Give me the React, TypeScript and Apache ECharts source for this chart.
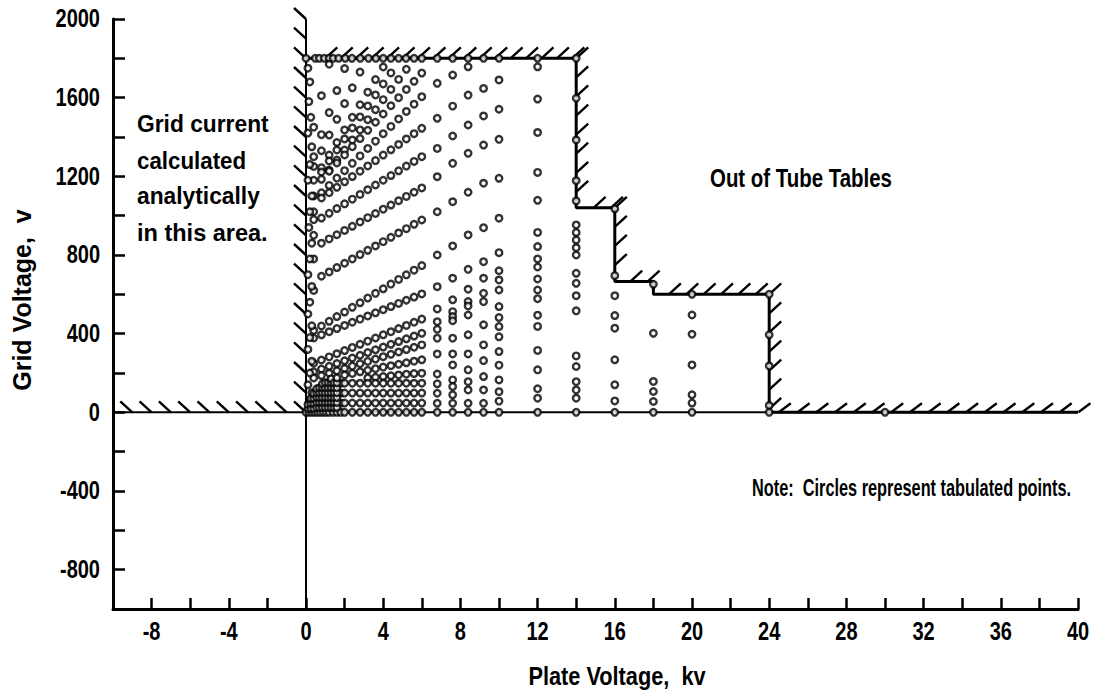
import React, { useEffect, useRef } from "react";
import * as echarts from "echarts";

// ---- axis ranges / ticks ----
const X_MIN = -10, X_MAX = 40, X_STEP = 2;
const Y_MIN = -1000, Y_MAX = 2000, Y_STEP = 200;
const xLabels = [-8, -4, 0, 4, 8, 12, 16, 20, 24, 28, 32, 36, 40];
const yLabels = [-800, -400, 0, 400, 800, 1200, 1600, 2000];

// ---- boundary of the tube tables ----
const boundary: [number, number][] = [
  [0, 1800], [14, 1800], [14, 1040], [16, 1040], [16, 665], [18, 665], [18, 600], [24, 600], [24, 0], [40, 0],
];

// ---- tabulated points: columns at fixed plate voltage ----
const colX = [6.8, 7.6, 8.4, 9.2, 10, 12, 14, 16, 18, 20, 24, 30];
const colV: number[][] = [
  [1800, 1673, 1495, 1342, 1198, 1020, 800, 639, 526, 461, 422, 377, 297, 195, 145, 97, 46, 0],
  [1800, 1715, 1557, 1405, 1266, 1071, 846, 682, 572, 512, 487, 466, 377, 297, 241, 165, 131, 89, 46, 0],
  [1800, 1757, 1613, 1461, 1317, 1119, 902, 727, 626, 563, 541, 495, 394, 297, 216, 156, 114, 46, 0],
  [1800, 1647, 1507, 1359, 1165, 939, 766, 682, 605, 563, 445, 343, 263, 182, 114, 46, 0],
  [1800, 1690, 1541, 1388, 1190, 987, 812, 720, 673, 622, 538, 482, 436, 384, 309, 240, 165, 105, 57, 0],
  [1800, 1757, 1593, 1423, 1220, 1078, 915, 843, 780, 739, 678, 622, 578, 494, 437, 315, 216, 120, 72, 0],
  [1800, 1597, 1385, 1178, 1075, 953, 914, 876, 837, 800, 707, 656, 593, 516, 287, 233, 156, 114, 72, 0],
  [1035, 695, 593, 492, 428, 267, 140, 58, 0],
  [651, 402, 157, 106, 55, 0],
  [600, 495, 397, 241, 89, 47, 0],
  [600, 394, 236, 35, 0],
  [0],
];

// ---- top row (grid voltage 1800) and bottom row (grid voltage 0) ----
const topRowX = [0, 0.48, 0.69, 0.95, 1.2, 1.41, 1.69, 2.03, 2.38, 2.81, 3.24, 3.62, 4.0, 4.4, 4.8, 5.18, 5.6, 6.0];
const bottomRowX = [0, 0.15, 0.3, 0.45, 0.6, 0.75, 0.9, 1.05, 1.2, 1.4, 1.6, 1.8, 2.0, 2.4, 2.8, 3.2, 3.6, 4.0, 4.4, 4.8, 5.2, 5.6, 6.0];

// ---- steep curves that reach the 1800 v limit ----
const steepCurves: [number, number][][] = [
  [[0.4, 1450], [0.8, 1610], [1.2, 1770]],
  [[0.4, 1300], [0.8, 1412], [1.2, 1524], [1.6, 1636], [2.0, 1748]],
  [[0.4, 1250], [0.8, 1330], [1.2, 1410], [1.6, 1490], [2.0, 1570], [2.4, 1650], [2.8, 1730]],
  [[0.4, 1180], [0.8, 1244], [1.2, 1308], [1.6, 1372], [2.0, 1436], [2.4, 1500], [2.8, 1564], [3.2, 1628], [3.6, 1692], [4.0, 1756]],
  [[0.8, 1222], [1.2, 1278], [1.6, 1334], [2.0, 1390], [2.4, 1446], [2.8, 1502], [3.2, 1558], [3.6, 1614], [4.0, 1670], [4.4, 1726]],
  [[1.2, 1232], [1.6, 1283], [2.0, 1334], [2.4, 1385], [2.8, 1436], [3.2, 1488], [3.6, 1539], [4.0, 1590], [4.4, 1642], [4.8, 1693], [5.2, 1744]],
];

// ---- fan of curves between 0.4 and 6 kv ----
const fanX = [0.4, 0.8, 1.2, 1.6, 2.0, 2.4, 2.8, 3.2, 3.6, 4.0, 4.4, 4.8, 5.2, 5.6, 6.0];
const fanV: number[][] = [
  [1100, 1185, 1226, 1268, 1309, 1351, 1392, 1434, 1475, 1517, 1559, 1600, 1642, 1683, 1725],
  [1020, 1116, 1154, 1191, 1229, 1266, 1304, 1342, 1379, 1417, 1454, 1492, 1530, 1567, 1605],
  [980, 1090, 1117, 1144, 1172, 1199, 1226, 1253, 1280, 1308, 1335, 1362, 1390, 1417, 1444],
  [900, 988, 1012, 1036, 1060, 1084, 1108, 1132, 1156, 1180, 1204, 1228, 1252, 1276, 1300],
  [780, 860, 882, 903, 925, 946, 968, 990, 1011, 1033, 1054, 1076, 1098, 1119, 1141],
  [620, 692, 714, 736, 758, 780, 802, 824, 846, 868, 890, 912, 934, 956, 978],
  [416, 439, 463, 487, 510, 534, 557, 581, 605, 628, 652, 676, 699, 723, 746],
  [378, 394, 410, 426, 442, 458, 474, 490, 506, 522, 538, 554, 570, 586, 602],
  [250, 266, 282, 298, 314, 330, 346, 362, 378, 394, 410, 426, 442, 458, 474],
  [206, 220, 234, 248, 262, 276, 290, 304, 318, 332, 346, 360, 374, 388, 402],
  [175, 187, 199, 211, 223, 235, 247, 259, 271, 283, 295, 307, 319, 331, 343],
];
const lowCurves: [number, number][][] = [
  [[2.0, 190], [2.4, 198], [2.8, 206], [3.2, 214], [3.6, 222], [4.0, 230], [4.4, 237], [4.8, 244], [5.2, 252], [5.6, 260], [6.0, 267]],
  [[3.2, 175], [3.6, 178], [4.0, 182], [4.4, 186], [4.8, 190], [5.2, 194], [5.6, 197], [6.0, 199]],
  [[1.8, 148], [2.0, 148], [2.4, 148], [2.8, 148], [3.2, 148], [3.6, 148], [4.0, 148], [4.4, 148], [4.8, 148], [5.2, 148], [5.6, 148], [6.0, 148]],
  [[1.8, 98], [2.0, 98], [2.4, 98], [2.8, 98], [3.2, 98], [3.6, 98], [4.0, 98], [4.4, 98], [4.8, 98], [5.2, 98], [5.6, 98], [6.0, 98]],
  [[1.8, 47], [2.0, 47], [2.4, 47], [2.8, 47], [3.2, 47], [3.6, 47], [4.0, 47], [4.4, 47], [4.8, 47], [5.2, 47], [5.6, 47], [6.0, 47]],
];

// ---- near-axis points (steep parts of the curves) ----
const axisPts: [number, number][] = [
  [0.1, 1750], [0.2, 1680], [0.15, 1580], [0.25, 1500], [0.1, 1420], [0.3, 1350], [0.2, 1260], [0.1, 1180],
  [0.3, 1100], [0.2, 1020], [0.15, 940], [0.3, 860], [0.2, 780], [0.1, 700], [0.3, 640], [0.2, 560],
  [0.1, 500], [0.3, 440], [0.2, 380], [0.1, 320], [0.3, 260], [0.2, 200], [0.1, 140], [0.3, 100], [0.2, 60],
];
// ---- dense wedge of points near the origin (per plate voltage) ----
const denseX = [0.1, 0.25, 0.4, 0.55, 0.7, 0.85, 1.0, 1.15, 1.3, 1.45, 1.6];
const denseV: number[][] = [
  [20, 40],
  [20, 45, 70],
  [20, 45, 70, 95],
  [25, 50, 75, 100, 120],
  [25, 50, 75, 100, 125],
  [25, 50, 75, 100, 125, 145],
  [25, 50, 75, 100, 125, 150],
  [25, 50, 75, 100, 125, 150],
  [25, 50, 75, 100, 125, 150, 170],
  [25, 50, 75, 100, 125, 150],
  [25, 50, 75, 100, 125, 150, 175],
];

const FONT = "'Liberation Sans', Arial, sans-serif";

function buildPoints(): [number, number][] {
  const pts: [number, number][] = [];
  colX.forEach((x, i) => colV[i].forEach((v) => pts.push([x, v])));
  topRowX.forEach((x) => pts.push([x, 1800]));
  bottomRowX.forEach((x) => pts.push([x, 0]));
  steepCurves.forEach((c) => c.forEach((p) => pts.push(p)));
  fanV.forEach((row) => row.forEach((v, j) => pts.push([fanX[j], v])));
  lowCurves.forEach((c) => c.forEach((p) => pts.push(p)));
  axisPts.forEach((p) => pts.push(p));
  denseX.forEach((x, i) => denseV[i].forEach((v) => pts.push([x, v])));
  return pts;
}

// hatch anchors along segments (decoration only): [x, v, kind] kind 0 = "\" (up-left), 1 = "/" (up-right), 2 = small "/"
function buildHatches(): [number, number, number][] {
  const h: [number, number, number][] = [];
  for (let v = 2000; v >= 100; v -= 100) h.push([0, v, 0]);
  for (let x = -9; x <= 0; x += 1) h.push([x, 0, 0]);
  for (let x = 1.0; x <= 14; x += 0.8) h.push([x, 1800, 1]);
  for (let v = 1800; v > 1060; v -= 97) h.push([14, v, 1]);
  h.push([14.9, 1040, 1]); h.push([15.8, 1040, 1]);
  for (let v = 1040; v > 690; v -= 97) h.push([16, v, 1]);
  h.push([16.8, 665, 1]); h.push([17.7, 665, 1]);
  for (let x = 18.8; x <= 24; x += 0.9) h.push([x, 600, 1]);
  for (let v = 600; v > 10; v -= 97) h.push([24, v, 1]);
  for (let x = 24.5; x <= 40.2; x += 0.97) h.push([x, 0, 2]);
  return h;
}

export default function App() {
  const ref = useRef<HTMLDivElement>(null);
  useEffect(() => {
    if (!ref.current) return;
    const chart = echarts.init(ref.current, undefined, { renderer: "svg" });
    const txt = (text: string, x: number, y: number, size: number, sx: number, extra: any = {}) => ({
      type: "text",
      x, y, scaleX: sx,
      ...extra,
      style: { text, fill: "#000", font: `bold ${size}px ${FONT}`, textVerticalAlign: "middle", ...(extra.style || {}) },
    });
    const labelStyle = (text: string, align: string) => ({
      text, fill: "#000", font: `bold 25px ${FONT}`, textAlign: align, textVerticalAlign: "middle",
    });
    chart.setOption({
      animation: false,
      backgroundColor: "#fff",
      grid: { left: 113, top: 19, width: 965, height: 590, containLabel: false },
      xAxis: {
        type: "value", min: X_MIN, max: X_MAX, interval: X_STEP,
        axisLine: { onZero: false, lineStyle: { color: "#000", width: 3 } },
        axisTick: { inside: true, length: 11, lineStyle: { color: "#000", width: 2.5 } },
        splitLine: { show: false },
        axisLabel: { show: false },
      },
      yAxis: {
        type: "value", min: Y_MIN, max: Y_MAX, interval: Y_STEP,
        axisLine: { onZero: false, lineStyle: { color: "#000", width: 3 } },
        axisTick: { inside: true, length: 12, lineStyle: { color: "#000", width: 2.5 } },
        splitLine: { show: false },
        axisLabel: { show: false },
      },
      series: [
        { type: "line", data: [[X_MIN, 0], [X_MAX, 0]], symbol: "none", lineStyle: { color: "#000", width: 2 }, z: 2 },
        { type: "line", data: [[0, Y_MIN], [0, Y_MAX]], symbol: "none", lineStyle: { color: "#000", width: 2 }, z: 2 },
        { type: "line", data: boundary, symbol: "none", lineStyle: { color: "#000", width: 3 }, z: 3 },
        {
          type: "custom", data: buildHatches(), z: 3, clip: false,
          renderItem: (_p: any, api: any) => {
            const c = api.coord([api.value(0), api.value(1)]);
            const k = api.value(2);
            const dx = k === 0 ? -12 : 12;
            const dy = k === 2 ? -9 : -11;
            return { type: "line", shape: { x1: c[0], y1: c[1], x2: c[0] + dx, y2: c[1] + dy }, style: { stroke: "#000", lineWidth: 2.4 } };
          },
        },
        {
          type: "scatter", data: buildPoints(), symbol: "circle", symbolSize: 6.5, z: 5,
          itemStyle: { color: "#fff", borderColor: "#000", borderWidth: 2.4 },
        },
        // x tick labels, placed through the axis scale
        {
          type: "custom", data: xLabels.map((v) => [v, Y_MIN]), clip: false, z: 6,
          renderItem: (_p: any, api: any) => {
            const c = api.coord([api.value(0), api.value(1)]);
            return { type: "text", x: c[0], y: c[1] + 23, scaleX: 0.8, style: labelStyle(String(api.value(0)), "center") };
          },
        },
        // y tick labels, placed through the axis scale
        {
          type: "custom", data: yLabels.map((v) => [X_MIN, v]), clip: false, z: 6,
          renderItem: (_p: any, api: any) => {
            const c = api.coord([api.value(0), api.value(1)]);
            return { type: "text", x: c[0] - 13, y: c[1], scaleX: 0.8, style: labelStyle(String(api.value(1)), "right") };
          },
        },
      ],
      graphic: [
        txt("Grid current", 137, 124, 24, 0.95),
        txt("calculated", 137, 161, 24, 0.93),
        txt("analytically", 137, 196, 24, 0.95),
        txt("in this area.", 137, 232, 24, 0.98),
        txt("Out of Tube Tables", 710, 178, 26, 0.786),
        txt("Note:  Circles represent tabulated points.", 752, 487, 24, 0.68),
        txt("Plate Voltage,  kv", 617, 676, 25, 0.87, { style: { textAlign: "center" } }),
        txt("Grid Voltage,  v", 22, 300, 25, 1.0, { rotation: Math.PI / 2, style: { textAlign: "center" } }),
      ],
    });
    return () => chart.dispose();
  }, []);
  return <div ref={ref} style={{ position: "absolute", left: 0, top: 0, width: 1105, height: 694 }} />;
}
